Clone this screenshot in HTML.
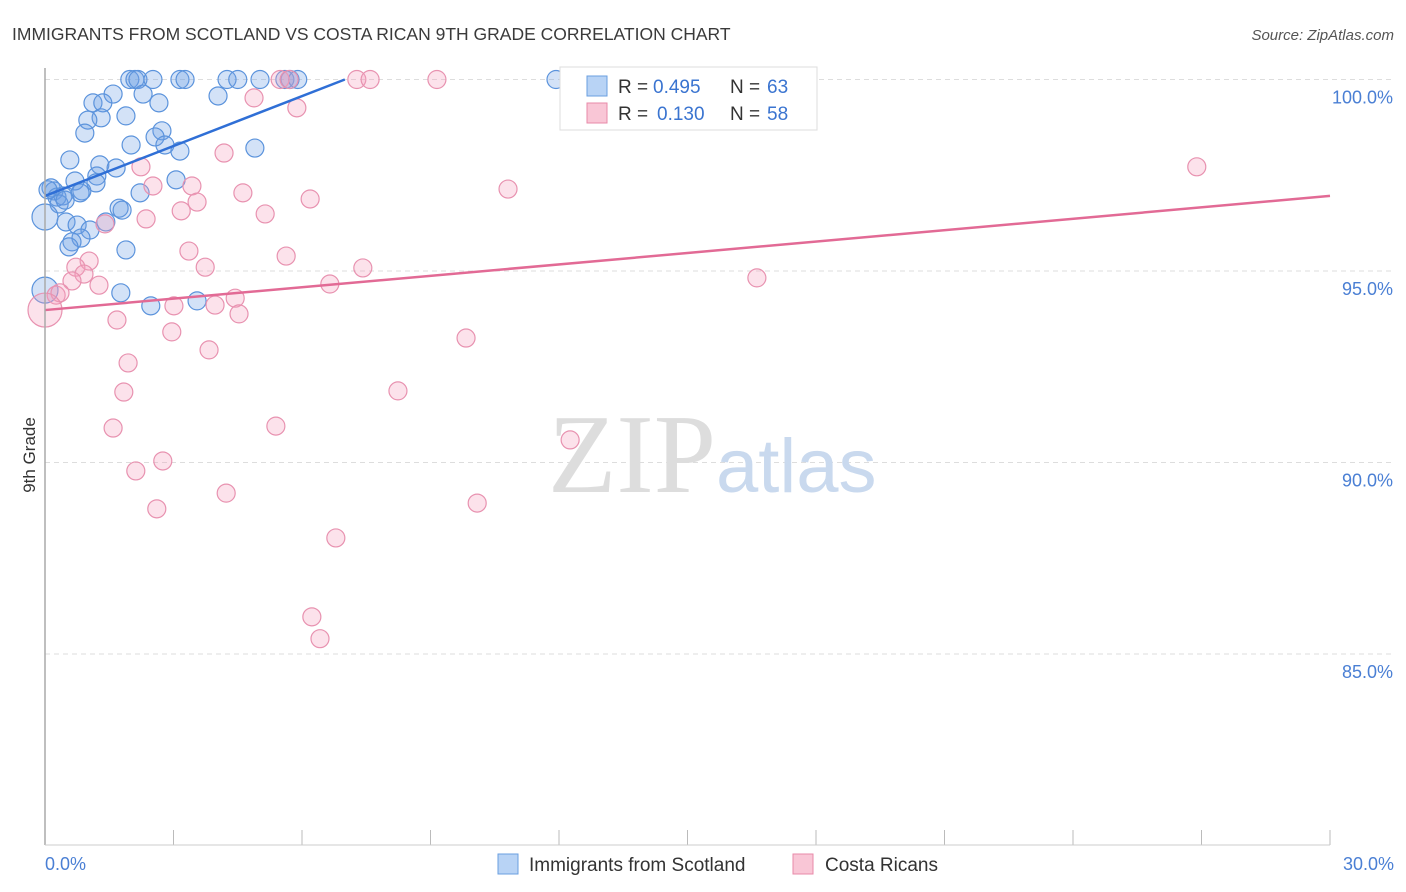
<!DOCTYPE html>
<html><head><meta charset="utf-8"><style>
body{margin:0;background:#fff;font-family:"Liberation Sans",sans-serif;}
svg{display:block}
</style></head><body>
<svg id="chart" width="1406" height="892" xmlns="http://www.w3.org/2000/svg">
<text x="12" y="40" font-size="17.5" fill="#3a3a3a">IMMIGRANTS FROM SCOTLAND VS COSTA RICAN 9TH GRADE CORRELATION CHART</text>
<text x="1394" y="40" font-size="15" fill="#555" font-style="italic" text-anchor="end">Source: ZipAtlas.com</text>
<text x="35" y="455" font-size="17" fill="#333" transform="rotate(-90 35 455)" text-anchor="middle">9th Grade</text>
<g id="grid"></g>
<text x="716" y="492" font-size="112" fill="#ddd" text-anchor="end" font-family="Liberation Serif,serif">ZIP</text>
<text x="716" y="492" font-size="76" fill="#c9d9ee">atlas</text>
<g id="points"></g>
<g id="trends"></g>
<line x1="45" y1="68" x2="45" y2="845" stroke="#aaa" stroke-width="1.5"/>
<line x1="45" y1="845" x2="1330" y2="845" stroke="#ccc" stroke-width="1"/>
<text x="45" y="870" font-size="18" fill="#4a7fd4">0.0%</text>
<text x="1394" y="870" font-size="18" fill="#4a7fd4" text-anchor="end">30.0%</text>
<g>
<rect x="560" y="67" width="257" height="63" fill="#fff" stroke="#ddd"/>
<rect x="587" y="76" width="20" height="20" fill="#b8d3f5" stroke="#6a9fe0"/>
<rect x="587" y="103" width="20" height="20" fill="#f9c6d6" stroke="#e88aa8"/>
<text x="618" y="93" font-size="19" fill="#333">R =</text><text x="653" y="93" font-size="19" fill="#3a74d0">0.495</text>
<text x="730" y="93" font-size="19" fill="#333">N =</text><text x="767" y="93" font-size="19" fill="#3a74d0">63</text>
<text x="618" y="120" font-size="19" fill="#333">R =</text><text x="657" y="120" font-size="19" fill="#3a74d0">0.130</text>
<text x="730" y="120" font-size="19" fill="#333">N =</text><text x="767" y="120" font-size="19" fill="#3a74d0">58</text>
</g>
<g><rect x="498" y="854" width="20" height="20" fill="#b8d3f5" stroke="#6a9fe0"/><text x="529" y="871" font-size="19" fill="#333">Immigrants from Scotland</text></g>
<g><rect x="793" y="854" width="20" height="20" fill="#f9c6d6" stroke="#e88aa8"/><text x="825" y="871" font-size="19" fill="#333">Costa Ricans</text></g>
</svg>
<script>
const yTicks=[100,95,90,85];
const yTickLabels=["100.0%","95.0%","90.0%","85.0%"];
const xTicks=[0,3,6,9,12,15,18,21,24,27,30];
const blueX=[1.98,2.10,2.17,2.52,3.15,3.27,4.25,4.50,5.02,5.60,5.72,5.90,11.93,2.29,1.59,4.04,1.12,1.35,2.66,1.89,1.31,1.00,0.93,2.73,2.57,2.01,2.80,3.15,4.90,0.58,1.28,1.66,1.21,1.19,0.70,3.06,0.14,0.21,0.28,0.42,0.33,0.86,0.82,2.22,0.0,0.49,0.75,1.05,1.73,1.80,1.42,0.84,0.63,0.56,1.89,1.77,2.47,3.55,0.0,0.47,0.07];
const blueY=[100,100,100,100,100,100,100,100,100,100,100,100,100,99.62,99.62,99.57,99.39,99.39,99.39,99.05,99.0,98.94,98.60,98.66,98.50,98.29,98.29,98.13,98.21,97.90,97.77,97.69,97.48,97.30,97.35,97.38,97.17,97.09,96.93,96.96,96.75,97.09,97.04,97.04,96.41,96.28,96.20,96.07,96.64,96.59,96.28,95.86,95.76,95.63,95.55,94.43,94.09,94.22,94.50,96.85,97.12];
const blueBig=[44,58];
const pinkX=[5.49,5.70,7.28,7.59,9.15,4.88,5.88,4.18,2.24,2.52,3.43,4.62,3.18,3.55,6.19,10.81,26.89,2.36,1.40,5.14,3.36,5.63,3.74,7.42,1.03,0.72,0.91,0.63,1.26,0.26,0.35,0.0,16.62,6.65,4.44,3.01,3.97,4.53,1.68,2.96,9.83,3.83,1.94,1.84,8.24,5.39,1.59,12.26,2.12,2.75,4.23,2.61,10.09,6.79,6.23,6.42];
const pinkY=[100,100,100,100,100,99.52,99.26,98.08,97.72,97.22,97.22,97.04,96.57,96.80,96.88,97.14,97.72,96.36,96.23,96.49,95.52,95.39,95.10,95.08,95.26,95.10,94.92,94.74,94.63,94.37,94.43,93.98,94.82,94.66,94.29,94.09,94.11,93.88,93.72,93.41,93.25,92.94,92.60,91.84,91.87,90.95,90.90,90.59,89.78,90.04,89.20,88.79,88.94,88.03,85.97,85.40];
const pinkBig=[31];
const blueTrend=[[0,96.96],[7.0,100]];
const pinkTrend=[[0,93.98],[30,96.96]];
const NS="http://www.w3.org/2000/svg";
const sx=v=>45+v/30*1285;
const sy=v=>79.5+(100-v)*38.3;
function mk(t,a,p){const e=document.createElementNS(NS,t);for(const k in a)e.setAttribute(k,a[k]);p.appendChild(e);return e;}
const grid=document.getElementById('grid');
yTicks.forEach((t,i)=>{
 const l=mk('line',{x1:45,x2:1394,y1:sy(t),y2:sy(t),stroke:'#ddd','stroke-dasharray':'5,4'},grid);
 
 
 const tx=mk('text',{x:1393,y:sy(t)+24,'font-size':18,fill:'#4a7fd4','text-anchor':'end'},grid);
 tx.textContent=yTickLabels[i];
 
 
});
xTicks.forEach(t=>{
 const l=mk('line',{x1:sx(t),x2:sx(t),y1:830,y2:845,stroke:'#bbb'},grid);
 
 
});
const pts=document.getElementById('points');
blueX.forEach((x,i)=>{
 const c=mk('circle',{cx:sx(x),cy:sy(blueY[i]),r:blueBig.includes(i)?13:9,fill:'rgba(110,160,230,0.3)',stroke:'#5b93dc','stroke-width':1.2},pts);
 
 
});
pinkX.forEach((x,i)=>{
 const c=mk('circle',{cx:sx(x),cy:sy(pinkY[i]),r:pinkBig.includes(i)?17:9,fill:'rgba(245,160,190,0.3)',stroke:'#e892b0','stroke-width':1.2},pts);
 
 
});
const tr=document.getElementById('trends');
const b=mk('line',{x1:sx(blueTrend[0][0]),y1:sy(blueTrend[0][1]),x2:sx(blueTrend[1][0]),y2:sy(blueTrend[1][1]),stroke:'#2f6fd6','stroke-width':2.5},tr);


const p=mk('line',{x1:sx(pinkTrend[0][0]),y1:sy(pinkTrend[0][1]),x2:sx(pinkTrend[1][0]),y2:sy(pinkTrend[1][1]),stroke:'#e26a95','stroke-width':2.5},tr);


</script>
</body></html>
